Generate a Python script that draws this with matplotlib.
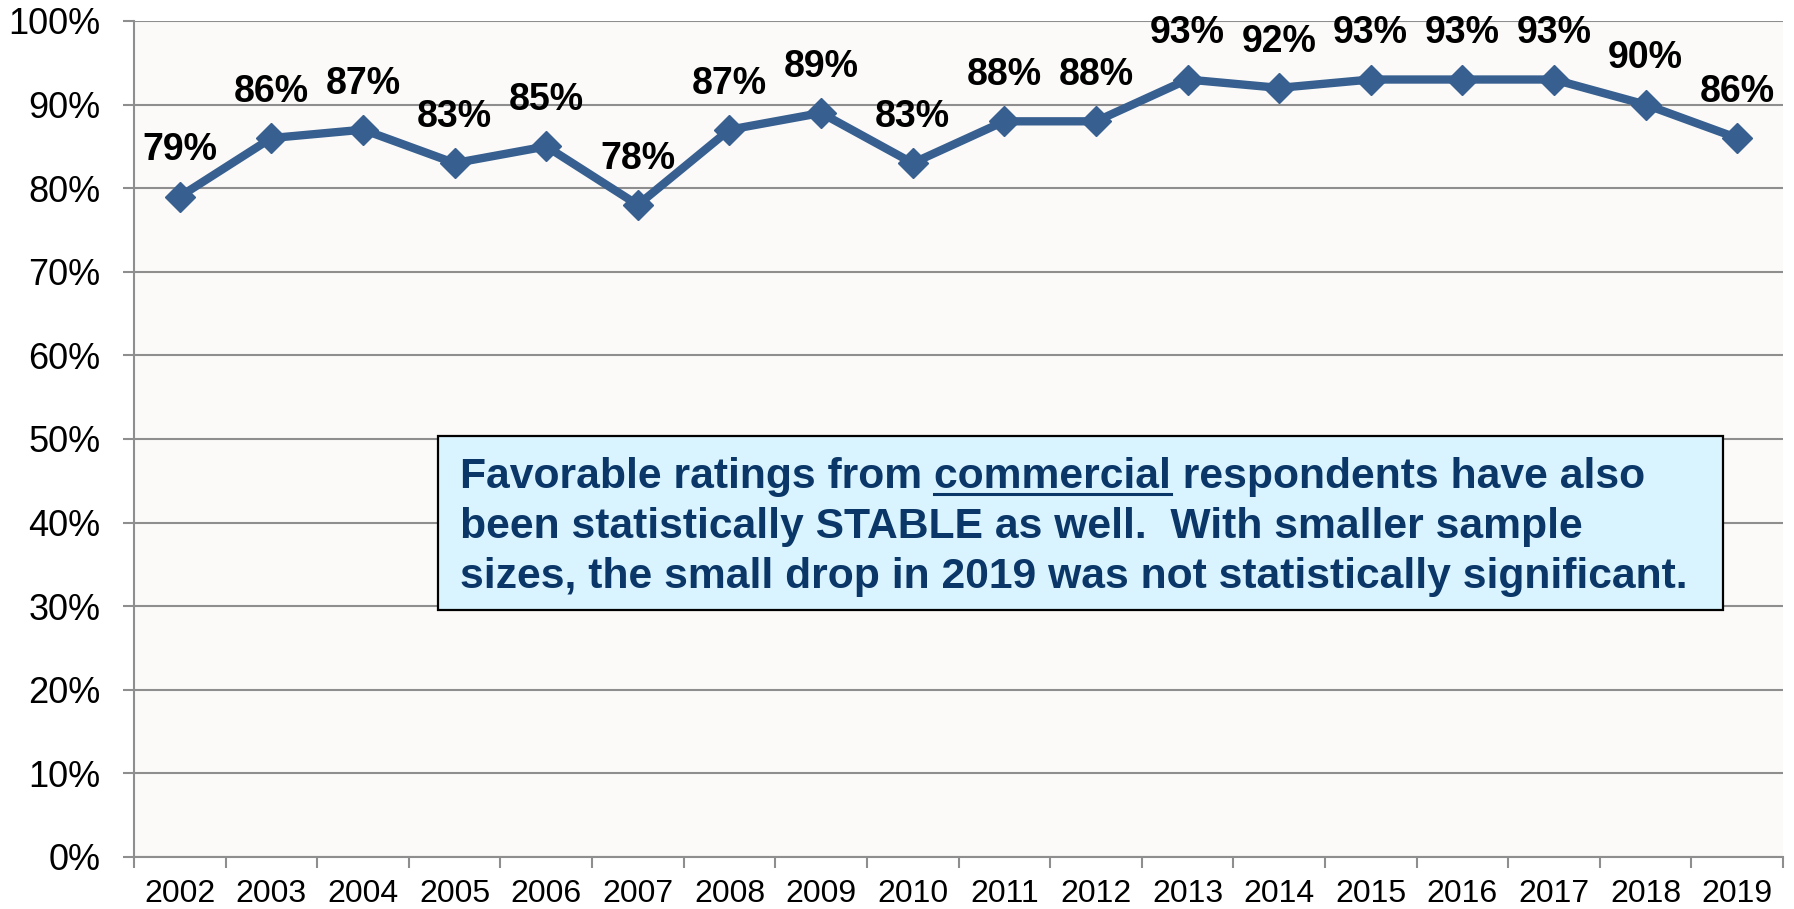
import matplotlib
matplotlib.use("Agg")
import matplotlib.pyplot as plt
from matplotlib.patches import Rectangle
from matplotlib.lines import Line2D

plt.rcParams['font.family'] = ['Liberation Sans', 'DejaVu Sans']

# Favorable ratings, commercial respondents
years = ["2002", "2003", "2004", "2005", "2006", "2007", "2008", "2009", "2010",
         "2011", "2012", "2013", "2014", "2015", "2016", "2017", "2018", "2019"]
favorable = [79, 86, 87, 83, 85, 78, 87, 89, 83, 88, 88, 93, 92, 93, 93, 93, 90, 86]
y_ticks = list(range(0, 101, 10))

note_lines = ["Favorable ratings from commercial respondents have also",
              "been statistically STABLE as well.  With smaller sample",
              "sizes, the small drop in 2019 was not statistically significant."]
note_underlined = "commercial"

W, H = 1794, 909
line_color = '#375F90'
grid_color = '#8E8E8E'

fig = plt.figure(figsize=(W / 100, H / 100), dpi=100)
fig.patch.set_facecolor('white')

# axes box in pixels (left, top, right, bottom)
L, T, R, B = 134, 21, 1783, 857
ax = fig.add_axes([L / W, 1 - B / H, (R - L) / W, (B - T) / H])
ax.set_facecolor('#FBFAF8')

x = list(range(len(years)))
ax.plot(x, favorable, color=line_color, lw=6, marker='D', ms=15,
        markeredgecolor=line_color, solid_joinstyle='miter', zorder=3)

for xi, v in zip(x, favorable):
    ax.annotate(f"{v}%", (xi, v), xytext=(0, 26), textcoords='offset points',
                ha='center', va='baseline', fontsize=27, fontweight='bold',
                color='black', zorder=4)

ax.set_xlim(-0.5, len(years) - 0.5)
ax.set_ylim(0, 100)

ax.set_yticks(y_ticks)
ax.set_yticklabels([f"{t}%" for t in y_ticks])
ax.yaxis.grid(True, color=grid_color, lw=1.5)
ax.set_axisbelow(True)
ax.tick_params(axis='y', length=8, width=1.5, color=grid_color, pad=16,
               labelsize=26, labelcolor='black')

# ticks between categories, labels at the centers
ax.set_xticks([i - 0.5 for i in range(len(years) + 1)])
ax.set_xticklabels([])
ax.set_xticks(x, minor=True)
ax.set_xticklabels(years, minor=True)
ax.tick_params(axis='x', which='major', length=8, width=1.5, color=grid_color)
ax.tick_params(axis='x', which='minor', length=0, pad=16, labelsize=23,
               labelcolor='black')

for side in ['top', 'right']:
    ax.spines[side].set_visible(False)
for side in ['left', 'bottom']:
    ax.spines[side].set_color(grid_color)
    ax.spines[side].set_linewidth(1.5)

# note box
bx0, by0, bx1, by1 = 438, 436, 1723, 610
fig.patches.append(Rectangle((bx0 / W, 1 - by1 / H), (bx1 - bx0) / W, (by1 - by0) / H,
                             transform=fig.transFigure, facecolor='#D9F4FF',
                             edgecolor='black', lw=1.6, zorder=5))

note_color = '#0A3768'
tx = 460
baselines = [488, 538, 588]
note_kw = dict(fontsize=30.7, fontweight='bold', color=note_color,
               ha='left', va='baseline', zorder=6)
texts = []
for line, by in zip(note_lines, baselines):
    texts.append(fig.text(tx / W, 1 - by / H, line, **note_kw))

# underline the highlighted word in the first line
fig.canvas.draw()
rend = fig.canvas.get_renderer()
pre = note_lines[0][:note_lines[0].index(note_underlined) + len(note_underlined)]
probe = fig.text(0, 0, pre, **note_kw)
end_w = probe.get_window_extent(rend).width
probe.set_text(note_underlined)
word_w = probe.get_window_extent(rend).width
probe.remove()
ux1 = tx + end_w
ux0 = ux1 - word_w
uy = baselines[0] + 6
fig.lines.append(Line2D([ux0 / W, ux1 / W], [1 - uy / H, 1 - uy / H],
                        transform=fig.transFigure, color=note_color, lw=2.2,
                        zorder=6))

fig.savefig("out.png", dpi=100)
